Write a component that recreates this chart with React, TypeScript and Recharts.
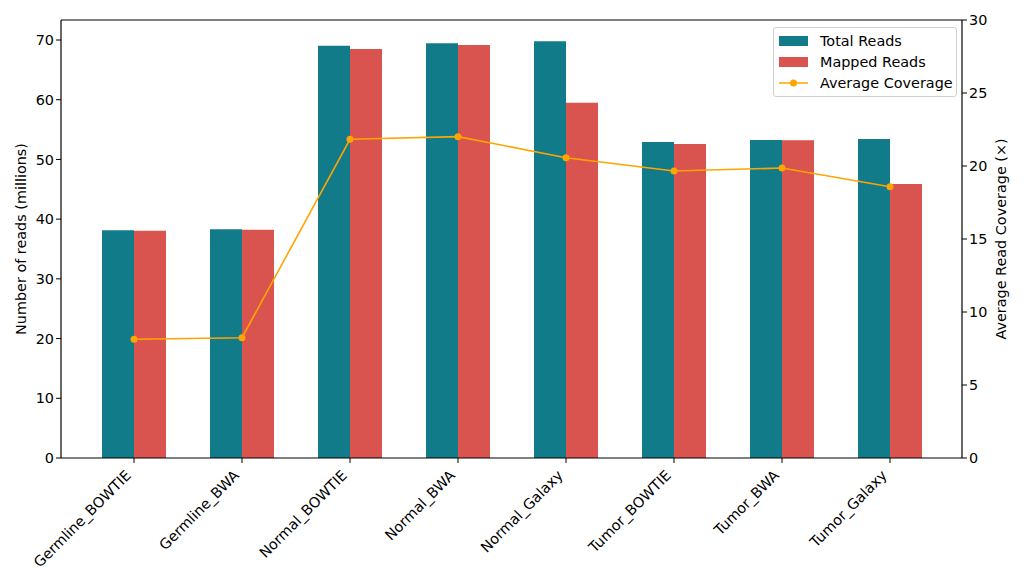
import React from "react";
import {
  ComposedChart,
  Bar,
  Line,
  XAxis,
  YAxis,
  Legend,
  ReferenceLine,
} from "recharts";

const categories = [
  "Germline_BOWTIE",
  "Germline_BWA",
  "Normal_BOWTIE",
  "Normal_BWA",
  "Normal_Galaxy",
  "Tumor_BOWTIE",
  "Tumor_BWA",
  "Tumor_Galaxy",
];
const totalReads = [38.13, 38.3, 69.05, 69.45, 69.78, 52.92, 53.26, 53.43];
const mappedReads = [38.07, 38.23, 68.5, 69.17, 59.5, 52.6, 53.2, 45.9];
const avgCoverage = [8.13, 8.24, 21.83, 22.01, 20.57, 19.66, 19.86, 18.58];
const leftTicks = [0, 10, 20, 30, 40, 50, 60, 70];
const rightTicks = [0, 5, 10, 15, 20, 25, 30];

const TEAL = "#127B8A";
const RED = "#D9534F";
const ORANGE = "#FFA500";
const FONT = "DejaVu Sans";
const FS = 14.4;

const data = categories.map((c, i) => ({
  name: c,
  total: totalReads[i],
  mapped: mappedReads[i],
  coverage: avgCoverage[i],
}));

const XTick = (props: any) => {
  const { x, y, payload } = props;
  return (
    <g transform={`translate(${x},${y})`}>
      <text
        x={0}
        y={0}
        dy={6.5}
        dx={-9.5}
        textAnchor="end"
        fontFamily={FONT}
        fontSize={FS}
        fill="#000"
        transform="rotate(-45)"
      >
        {payload.value}
      </text>
    </g>
  );
};

const LegendContent = () => {
  const items = [
    { label: "Total Reads", type: "bar", color: TEAL },
    { label: "Mapped Reads", type: "bar", color: RED },
    { label: "Average Coverage", type: "line", color: ORANGE },
  ];
  return (
    <div
      style={{
        border: "1px solid #d0d0d0",
        borderRadius: 3,
        background: "rgba(255,255,255,0.85)",
        padding: "2px 4px 3px 5px",
        fontFamily: FONT,
        fontSize: FS,
        width: 173,
        boxSizing: "content-box",
      }}
    >
      {items.map((it) => (
        <div
          key={it.label}
          style={{ display: "flex", alignItems: "center", height: 21 }}
        >
          <svg width={30} height={12} style={{ marginRight: 11, flexShrink: 0 }}>
            {it.type === "bar" ? (
              <rect x={0} y={1} width={29} height={10} fill={it.color} />
            ) : (
              <g>
                <line x1={0} y1={6} x2={29} y2={6} stroke={it.color} strokeWidth={1.5} />
                <circle cx={14.5} cy={6} r={3.5} fill={it.color} />
              </g>
            )}
          </svg>
          <span style={{ color: "#000", whiteSpace: "nowrap" }}>{it.label}</span>
        </div>
      ))}
    </div>
  );
};

const leftLabel = (props: any) => {
  const vb = props.viewBox;
  const cx = 21;
  const cy = vb.y + vb.height / 2;
  return (
    <text
      x={cx}
      y={cy}
      transform={`rotate(-90, ${cx}, ${cy})`}
      textAnchor="middle"
      dominantBaseline="central"
      fontFamily={FONT}
      fontSize={FS}
      fill="#000"
    >
      Number of reads (millions)
    </text>
  );
};

const rightLabel = (props: any) => {
  const vb = props.viewBox;
  const cx = 1001;
  const cy = vb.y + vb.height / 2;
  return (
    <text
      x={cx}
      y={cy}
      transform={`rotate(-90, ${cx}, ${cy})`}
      textAnchor="middle"
      dominantBaseline="central"
      fontFamily={FONT}
      fontSize={FS}
      fill="#000"
    >
      Average Read Coverage (×)
    </text>
  );
};

const LEFT_MAX = 73.35;

export default function App() {
  return (
    <div style={{ position: "absolute", left: 0, top: 0, background: "#fff" }}>
      <ComposedChart
        width={1024}
        height={585}
        data={data}
        margin={{ top: 20, right: 0, bottom: 0, left: 0 }}
        barGap={0}
      >
        <XAxis
          dataKey="name"
          xAxisId={0}
          height={127}
          interval={0}
          padding={{ left: 19, right: 18 }}
          axisLine={{ stroke: "#000", strokeWidth: 1.2 }}
          tickLine={{ stroke: "#000" }}
          tickSize={5}
          tick={<XTick />}
        />
        <YAxis
          yAxisId="left"
          orientation="left"
          width={61}
          domain={[0, LEFT_MAX]}
          ticks={leftTicks}
          interval={0}
          allowDataOverflow
          axisLine={{ stroke: "#000", strokeWidth: 1.2 }}
          tickLine={{ stroke: "#000" }}
          tickSize={5}
          tick={{ fontFamily: FONT, fontSize: FS, fill: "#000" }}
          label={{ content: leftLabel }}
        />
        <YAxis
          yAxisId="right"
          orientation="right"
          width={62}
          domain={[0, 30]}
          ticks={rightTicks}
          interval={0}
          axisLine={{ stroke: "#000", strokeWidth: 1.2 }}
          tickLine={{ stroke: "#000" }}
          tickSize={5}
          tick={{ fontFamily: FONT, fontSize: FS, fill: "#000" }}
          label={{ content: rightLabel }}
        />
        <ReferenceLine
          yAxisId="left"
          y={LEFT_MAX}
          stroke="#000"
          strokeWidth={1.2}
          ifOverflow="extendDomain"
        />
        <Bar
          yAxisId="left"
          dataKey="total"
          name="Total Reads"
          fill={TEAL}
          barSize={32}
          isAnimationActive={false}
        />
        <Bar
          yAxisId="left"
          dataKey="mapped"
          name="Mapped Reads"
          fill={RED}
          barSize={32}
          isAnimationActive={false}
        />
        <Line
          yAxisId="right"
          dataKey="coverage"
          name="Average Coverage"
          stroke={ORANGE}
          strokeWidth={1.6}
          dot={{ r: 3.5, fill: ORANGE, stroke: ORANGE, strokeWidth: 0 }}
          activeDot={false}
          isAnimationActive={false}
        />
        <Legend
          layout="horizontal"
          verticalAlign="middle"
          align="center"
          content={<LegendContent />}
          wrapperStyle={{ position: "absolute", top: 27, left: 773, width: 184 }}
        />
      </ComposedChart>
    </div>
  );
}
